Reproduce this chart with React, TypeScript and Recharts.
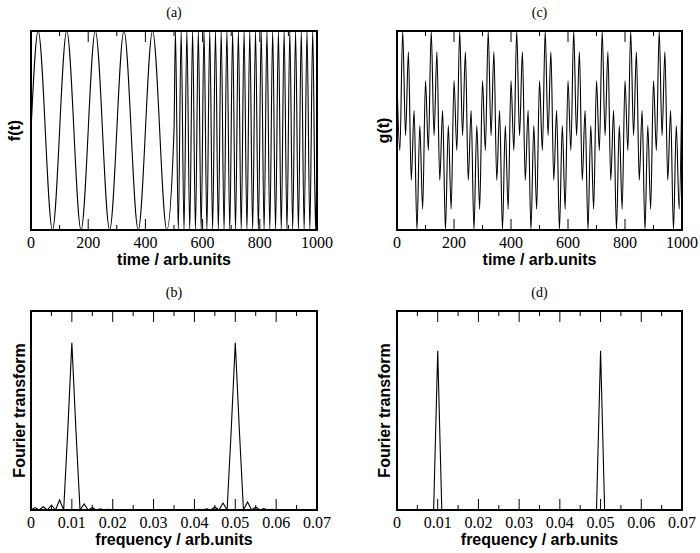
import React from "react";
import { LineChart, Line, XAxis, YAxis, ReferenceArea } from "recharts";

// (a) f(t): turning points and zero crossings
const fTime = [
  0, 25, 75, 125, 175, 225, 275, 325, 375, 425, 475, 500,
  505, 515, 525, 535, 545, 555, 565, 575, 585, 595,
  605, 615, 625, 635, 645, 655, 665, 675, 685, 695,
  705, 715, 725, 735, 745, 755, 765, 775, 785, 795,
  805, 815, 825, 835, 845, 855, 865, 875, 885, 895,
  905, 915, 925, 935, 945, 955, 965, 975, 985, 995,
  1000,
];
const fValue = [
  0, 1, -1, 1, -1, 1, -1, 1, -1, 1, -1, 0,
  1, -1, 1, -1, 1, -1, 1, -1, 1, -1,
  1, -1, 1, -1, 1, -1, 1, -1, 1, -1,
  1, -1, 1, -1, 1, -1, 1, -1, 1, -1,
  1, -1, 1, -1, 1, -1, 1, -1, 1, -1,
  1, -1, 1, -1, 1, -1, 1, -1, 1, -1,
  0,
];

// (c) g(t): turning points
const gTime = [
  0, 10, 20, 30, 40, 50, 60, 70, 80, 90,
  100, 110, 120, 130, 140, 150, 160, 170, 180, 190,
  200, 210, 220, 230, 240, 250, 260, 270, 280, 290,
  300, 310, 320, 330, 340, 350, 360, 370, 380, 390,
  400, 410, 420, 430, 440, 450, 460, 470, 480, 490,
  500, 510, 520, 530, 540, 550, 560, 570, 580, 590,
  600, 610, 620, 630, 640, 650, 660, 670, 680, 690,
  700, 710, 720, 730, 740, 750, 760, 770, 780, 790,
  800, 810, 820, 830, 840, 850, 860, 870, 880, 890,
  900, 910, 920, 930, 940, 950, 960, 970, 980, 990,
  1000,
];
const gValue = [
  1.0, -0.4, 2.0, -0.1, 1.58, -1.0, 0.4, -2.0, 0.1, -1.58,
  1.0, -0.4, 2.0, -0.1, 1.58, -1.0, 0.4, -2.0, 0.1, -1.58,
  1.0, -0.4, 2.0, -0.1, 1.58, -1.0, 0.4, -2.0, 0.1, -1.58,
  1.0, -0.4, 2.0, -0.1, 1.58, -1.0, 0.4, -2.0, 0.1, -1.58,
  1.0, -0.4, 2.0, -0.1, 1.58, -1.0, 0.4, -2.0, 0.1, -1.58,
  1.0, -0.4, 2.0, -0.1, 1.58, -1.0, 0.4, -2.0, 0.1, -1.58,
  1.0, -0.4, 2.0, -0.1, 1.58, -1.0, 0.4, -2.0, 0.1, -1.58,
  1.0, -0.4, 2.0, -0.1, 1.58, -1.0, 0.4, -2.0, 0.1, -1.58,
  1.0, -0.4, 2.0, -0.1, 1.58, -1.0, 0.4, -2.0, 0.1, -1.58,
  1.0, -0.4, 2.0, -0.1, 1.58, -1.0, 0.4, -2.0, 0.1, -1.58,
  1.0,
];

// (b), (d) Fourier transforms
const freq = [
  0, 0.001, 0.002, 0.003, 0.004, 0.005, 0.006, 0.007, 0.008, 0.009,
  0.01, 0.011, 0.012, 0.013, 0.014, 0.015, 0.016, 0.017, 0.018, 0.019,
  0.02, 0.021, 0.022, 0.023, 0.024, 0.025, 0.026, 0.027, 0.028, 0.029,
  0.03, 0.031, 0.032, 0.033, 0.034, 0.035, 0.036, 0.037, 0.038, 0.039,
  0.04, 0.041, 0.042, 0.043, 0.044, 0.045, 0.046, 0.047, 0.048, 0.049,
  0.05, 0.051, 0.052, 0.053, 0.054, 0.055, 0.056, 0.057, 0.058, 0.059,
  0.06, 0.061, 0.062, 0.063, 0.064, 0.065, 0.066, 0.067, 0.068, 0.069,
  0.07,
];
const ftF = [
  0, 0.012, 0, 0.016, 0, 0.025, 0, 0.05, 0, 0.4,
  0.84, 0.4, 0, 0.03, 0, 0.012, 0, 0.006, 0, 0.004,
  0, 0, 0, 0, 0, 0, 0, 0, 0, 0,
  0, 0, 0, 0, 0, 0, 0, 0, 0, 0,
  0, 0.003, 0, 0.006, 0, 0.015, 0, 0.035, 0, 0.4,
  0.84, 0.4, 0, 0.04, 0, 0.015, 0, 0.007, 0, 0.004,
  0, 0, 0, 0, 0, 0, 0, 0, 0, 0,
  0,
];
const ftG = [
  0, 0, 0, 0, 0, 0, 0, 0, 0, 0,
  0.8, 0, 0, 0, 0, 0, 0, 0, 0, 0,
  0, 0, 0, 0, 0, 0, 0, 0, 0, 0,
  0, 0, 0, 0, 0, 0, 0, 0, 0, 0,
  0, 0, 0, 0, 0, 0, 0, 0, 0, 0,
  0.8, 0, 0, 0, 0, 0, 0, 0, 0, 0,
  0, 0, 0, 0, 0, 0, 0, 0, 0, 0,
  0,
];

const timeTicks = [0, 100, 200, 300, 400, 500, 600, 700, 800, 900, 1000];
const freqTicks = [0, 0.005, 0.01, 0.015, 0.02, 0.025, 0.03, 0.035, 0.04, 0.045, 0.05, 0.055, 0.06, 0.065, 0.07];

const PLOT_H = 199;
const serif = "Liberation Serif, Times New Roman, serif";
const sans = "Liberation Sans, Arial, sans-serif";

const tickRenderer = (props: any) => {
  const { x, y, payload, index } = props;
  const major = index % 2 === 0;
  const len = major ? 11 : 5;
  return (
    <g>
      <line x1={x} x2={x} y1={y} y2={y - len} stroke="#000" strokeWidth={1} />
      <line x1={x} x2={x} y1={y - PLOT_H} y2={y - PLOT_H + len} stroke="#000" strokeWidth={1} />
      {major && (
        <text
          x={x}
          y={y + 17.5}
          textAnchor="middle"
          style={{ fontFamily: serif, fontSize: 16, fill: "#000" }}
        >
          {String(payload.value)}
        </text>
      )}
    </g>
  );
};

type PanelProps = {
  left: number;
  top: number;
  height: number;
  margin: { top: number; right: number; bottom: number; left: number };
  yWidth: number;
  labelDx: number;
  xs: number[];
  ys: number[];
  xDomain: [number, number];
  yDomain: [number, number];
  ticks: number[];
  title: string;
  xLabel: string;
  yLabel: string;
  curve: "monotone" | "linear";
};

const Panel = (p: PanelProps) => {
  const data = p.xs.map((x, i) => ({ x, v: p.ys[i] }));
  return (
    <div style={{ position: "absolute", left: p.left, top: p.top }}>
      <LineChart width={350} height={p.height} data={data} margin={p.margin}>
        <XAxis
          dataKey="x"
          type="number"
          domain={p.xDomain}
          ticks={p.ticks}
          interval={0}
          axisLine={false}
          tickLine={false}
          tickSize={0}
          tickMargin={0}
          height={40}
          tick={tickRenderer}
          label={{
            value: p.xLabel,
            position: "insideBottom",
            offset: 5.5,
            style: { fontFamily: sans, fontWeight: "bold", fontSize: 16, fill: "#000" },
          }}
        />
        <YAxis
          type="number"
          domain={p.yDomain}
          width={p.yWidth}
          tick={false}
          tickLine={false}
          axisLine={false}
          label={{
            value: p.yLabel,
            angle: -90,
            position: "center",
            dx: p.labelDx,
            style: { fontFamily: sans, fontWeight: "bold", fontSize: 16, fill: "#000" },
          }}
        />
        <ReferenceArea
          x1={p.xDomain[0]}
          x2={p.xDomain[1]}
          y1={p.yDomain[0]}
          y2={p.yDomain[1]}
          fill="none"
          fillOpacity={0}
          stroke="#000"
          strokeWidth={2}
          ifOverflow="visible"
          label={{
            value: p.title,
            position: "top",
            offset: 14.5,
            style: { fontFamily: serif, fontSize: 14, fill: "#000" },
          }}
        />
        <Line
          dataKey="v"
          type={p.curve}
          stroke="#000"
          strokeWidth={1.1}
          dot={false}
          activeDot={false}
          isAnimationActive={false}
        />
      </LineChart>
    </div>
  );
};

export default function App() {
  return (
    <div style={{ position: "absolute", left: 0, top: 0, width: 700, height: 553, background: "#fff" }}>
      <Panel
        left={0}
        top={0}
        height={270}
        margin={{ top: 31, right: 33, bottom: 0, left: 0 }}
        yWidth={31}
        labelDx={-1.5}
        xs={fTime}
        ys={fValue}
        xDomain={[0, 1000]}
        yDomain={[-1, 1]}
        ticks={timeTicks}
        title="(a)"
        xLabel="time / arb.units"
        yLabel="f(t)"
        curve="monotone"
      />
      <Panel
        left={350}
        top={0}
        height={270}
        margin={{ top: 31, right: 18, bottom: 0, left: 21 }}
        yWidth={26}
        labelDx={-1}
        xs={gTime}
        ys={gValue}
        xDomain={[0, 1000]}
        yDomain={[-2, 2]}
        ticks={timeTicks}
        title="(c)"
        xLabel="time / arb.units"
        yLabel="g(t)"
        curve="monotone"
      />
      <Panel
        left={0}
        top={280}
        height={273}
        margin={{ top: 31, right: 33, bottom: 3, left: 7 }}
        yWidth={24}
        labelDx={0}
        xs={freq}
        ys={ftF}
        xDomain={[0, 0.07]}
        yDomain={[0, 1]}
        ticks={freqTicks}
        title="(b)"
        xLabel="frequency / arb.units"
        yLabel="Fourier transform"
        curve="linear"
      />
      <Panel
        left={350}
        top={280}
        height={273}
        margin={{ top: 31, right: 18, bottom: 3, left: 21 }}
        yWidth={26}
        labelDx={0}
        xs={freq}
        ys={ftG}
        xDomain={[0, 0.07]}
        yDomain={[0, 1]}
        ticks={freqTicks}
        title="(d)"
        xLabel="frequency / arb.units"
        yLabel="Fourier transform"
        curve="linear"
      />
    </div>
  );
}
